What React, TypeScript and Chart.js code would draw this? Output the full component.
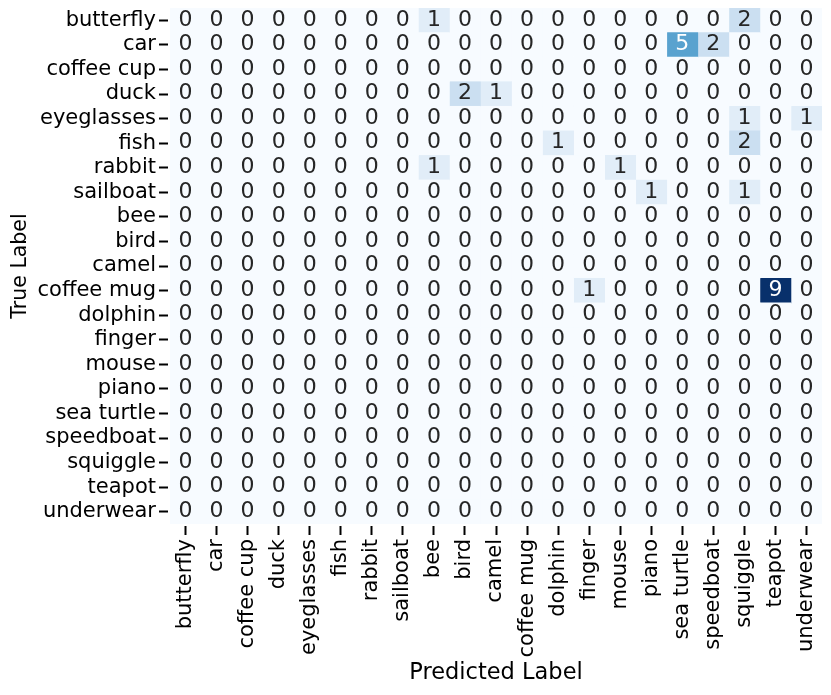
import React, { useEffect, useRef } from 'react';
import { Chart, registerables } from 'chart.js';

Chart.register(...registerables);

const trueLabels = [
  'butterfly', 'car', 'coffee cup', 'duck', 'eyeglasses', 'fish', 'rabbit', 'sailboat',
  'bee', 'bird', 'camel', 'coffee mug', 'dolphin', 'finger', 'mouse', 'piano',
  'sea turtle', 'speedboat', 'squiggle', 'teapot', 'underwear',
];
const predictedLabels = [
  'butterfly', 'car', 'coffee cup', 'duck', 'eyeglasses', 'fish', 'rabbit', 'sailboat',
  'bee', 'bird', 'camel', 'coffee mug', 'dolphin', 'finger', 'mouse', 'piano',
  'sea turtle', 'speedboat', 'squiggle', 'teapot', 'underwear',
];

// Non-zero cells of the confusion matrix (every other cell is 0)
const cellTrue = [
  'butterfly', 'butterfly', 'car', 'car', 'duck', 'duck', 'eyeglasses', 'eyeglasses',
  'fish', 'fish', 'rabbit', 'rabbit', 'sailboat', 'sailboat', 'coffee mug', 'coffee mug',
];
const cellPred = [
  'bee', 'squiggle', 'sea turtle', 'speedboat', 'bird', 'camel', 'squiggle', 'underwear',
  'dolphin', 'squiggle', 'bee', 'mouse', 'piano', 'squiggle', 'finger', 'teapot',
];
const cellCount = [1, 2, 5, 2, 2, 1, 1, 1, 1, 2, 1, 1, 1, 1, 1, 9];

// matplotlib "Blues" colormap stops
const bluesStops: number[][] = [
  [247, 251, 255], [222, 235, 247], [198, 219, 239], [158, 202, 225], [107, 174, 214],
  [66, 146, 198], [33, 113, 181], [8, 81, 156], [8, 48, 107],
];

function blues(t: number): number[] {
  const c = Math.max(0, Math.min(1, t)) * (bluesStops.length - 1);
  const i = Math.min(Math.floor(c), bluesStops.length - 2);
  const f = c - i;
  const a = bluesStops[i];
  const b = bluesStops[i + 1];
  return [0, 1, 2].map((k) => a[k] + (b[k] - a[k]) * f);
}

function rgb(c: number[]): string {
  return `rgb(${Math.round(c[0])},${Math.round(c[1])},${Math.round(c[2])})`;
}

function luminance(c: number[]): number {
  const lin = c.map((v) => {
    const s = v / 255;
    return s <= 0.03928 ? s / 12.92 : Math.pow((s + 0.055) / 1.055, 2.4);
  });
  return 0.2126 * lin[0] + 0.7152 * lin[1] + 0.0722 * lin[2];
}

const matrix: number[][] = trueLabels.map(() => predictedLabels.map(() => 0));
cellTrue.forEach((t, k) => {
  matrix[trueLabels.indexOf(t)][predictedLabels.indexOf(cellPred[k])] = cellCount[k];
});
const vmax = Math.max(...cellCount);

const cellTextPlugin = {
  id: 'cellText',
  afterDatasetsDraw(chart: any) {
    const ctx = chart.ctx;
    ctx.save();
    ctx.font = '22px "DejaVu Sans"';
    ctx.textAlign = 'center';
    ctx.textBaseline = 'middle';
    chart.data.datasets.forEach((ds: any, j: number) => {
      const meta = chart.getDatasetMeta(j);
      meta.data.forEach((el: any, i: number) => {
        const { x, y, base } = el.getProps(['x', 'y', 'base'], true);
        const v = ds.counts[i];
        const col = blues(v / vmax);
        ctx.fillStyle = luminance(col) > 0.408 ? '#262626' : '#ffffff';
        ctx.fillText(String(v), (x + base) / 2, y - 0.5);
      });
    });
    ctx.restore();
  },
};

export default function App() {
  const canvasRef = useRef<HTMLCanvasElement | null>(null);

  useEffect(() => {
    if (!canvasRef.current) return;
    Chart.defaults.font.family = '"DejaVu Sans"';
    Chart.defaults.color = '#000';

    const datasets = predictedLabels.map((p, j) => ({
      label: p,
      data: trueLabels.map(() => [j, j + 1]),
      counts: trueLabels.map((_, i) => matrix[i][j]),
      backgroundColor: trueLabels.map((_, i) => rgb(blues(matrix[i][j] / vmax))),
      borderWidth: 0,
      barPercentage: 1,
      categoryPercentage: 1,
      grouped: false,
    }));

    const chart = new Chart(canvasRef.current, {
      type: 'bar',
      data: { labels: trueLabels, datasets: datasets as any },
      plugins: [cellTextPlugin],
      options: {
        indexAxis: 'y',
        responsive: false,
        animation: false,
        devicePixelRatio: 1,
        layout: { padding: { top: 8, right: 9, left: 0, bottom: 0 } },
        plugins: { legend: { display: false }, tooltip: { enabled: false } },
        scales: {
          x: {
            type: 'linear',
            position: 'bottom',
            min: 0,
            max: predictedLabels.length,
            afterBuildTicks: (s: any) => {
              s.ticks = predictedLabels.map((_, j) => ({ value: j + 0.5 }));
            },
            afterFit: (s: any) => {
              s.height = 171;
              s.paddingLeft = 0;
              s.paddingRight = 0;
            },
            ticks: {
              autoSkip: false,
              minRotation: 90,
              maxRotation: 90,
              padding: 4,
              color: '#000',
              font: { size: 21 },
              callback: (_v: any, i: number) => predictedLabels[i],
            },
            grid: {
              drawOnChartArea: false,
              tickLength: 11,
              tickWidth: 2,
              tickColor: '#000',
              tickBorderDash: [9, 2],
              tickBorderDashOffset: 9,
            },
            border: { display: false },
            title: {
              display: true,
              text: 'Predicted Label',
              color: '#000',
              font: { size: 22.5 },
              padding: { top: 0, bottom: 8 },
            },
          },
          y: {
            type: 'category',
            offset: true,
            afterFit: (s: any) => {
              s.width = 170;
              s.paddingTop = 0;
              s.paddingBottom = 0;
            },
            ticks: {
              autoSkip: false,
              padding: 3,
              color: '#000',
              font: { size: 21 },
            },
            grid: {
              offset: false,
              drawOnChartArea: false,
              tickLength: 11,
              tickWidth: 2,
              tickColor: '#000',
              tickBorderDash: [9, 2],
            },
            border: { display: false },
            title: {
              display: true,
              text: 'True Label',
              color: '#000',
              font: { size: 20.5 },
              padding: { top: 8, bottom: 0 },
            },
          },
        },
      } as any,
    });
    return () => chart.destroy();
  }, []);

  return (
    <div style={{ position: 'absolute', left: 0, top: 0, width: 831, height: 695 }}>
      <canvas ref={canvasRef} width={831} height={695} />
    </div>
  );
}
